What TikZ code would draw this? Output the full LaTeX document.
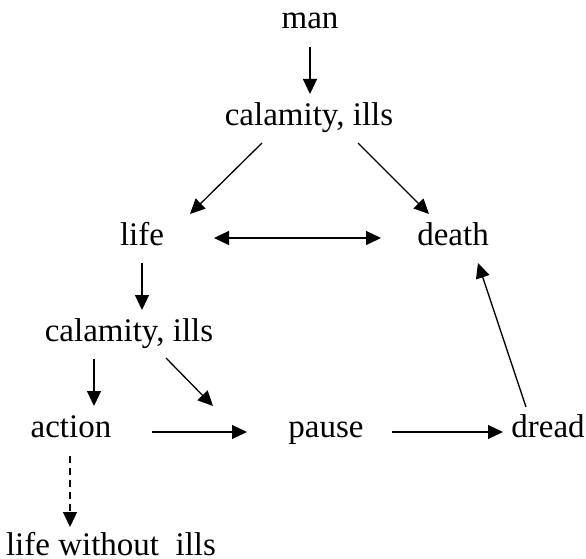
\documentclass[tikz,border=0pt]{standalone}
\usepackage{fontspec}
\setmainfont{Liberation Serif}
\usetikzlibrary{arrows.meta,calc}
\begin{document}
\begin{tikzpicture}[x=1pt,y=-1pt,
  lbl/.style={anchor=base,inner sep=0pt,font=\fontsize{33}{40}\selectfont},
  arr/.style={line width=1.3pt,-{Triangle[length=15pt,width=14pt]}},
  darr/.style={line width=1.3pt,{Triangle[length=15pt,width=14pt]}-{Triangle[length=15pt,width=14pt]}},
  dsh/.style={arr,dash pattern=on 7pt off 5pt}]
\useasboundingbox (0,0) rectangle (586,559);
\node[lbl] (man) at (310,29) {man};
\node[lbl] (cal1) at (309,125) {calamity, ills};
\node[lbl] (life) at (142,245) {life};
\node[lbl] (death) at (453,245) {death};
\node[lbl] (cal2) at (129,341) {calamity, ills};
\node[lbl] (action) at (71,437) {action};
\node[lbl] (pause) at (326,437) {pause};
\node[lbl] (dread) at (548,437) {dread};
\node[lbl] (lwi) at (111,555) {life without\ \ ills};
\draw[arr] ($(man.base)+(0,18)$) -- ($(cal1.base)+(1,-31)$);
\draw[arr] ($(cal1.base)+(-47,18)$) -- ($(life.base)+(48,-31)$);
\draw[arr] ($(cal1.base)+(49,18)$) -- ($(death.base)+(-24,-31)$);
\draw[darr] ($(life.base)+(72,-7)$) -- ($(death.base)+(-72,-7)$);
\draw[arr] ($(life.base)+(0,18)$) -- ($(cal2.base)+(13,-31)$);
\draw[arr] ($(cal2.base)+(-35,18)$) -- ($(action.base)+(23,-31)$);
\draw[arr] ($(cal2.base)+(37,17)$) -- ($(pause.base)+(-113,-31)$);
\draw[arr] ($(action.base)+(81,-5)$) -- ($(pause.base)+(-79,-5)$);
\draw[arr] ($(pause.base)+(66,-5)$) -- ($(dread.base)+(-45,-5)$);
\draw[arr] ($(dread.base)+(-22,-30)$) -- ($(death.base)+(25,18)$);
\draw[dsh] ($(action.base)+(-1,19)$) -- ($(lwi.base)+(-41,-28)$);
\end{tikzpicture}
\end{document}
